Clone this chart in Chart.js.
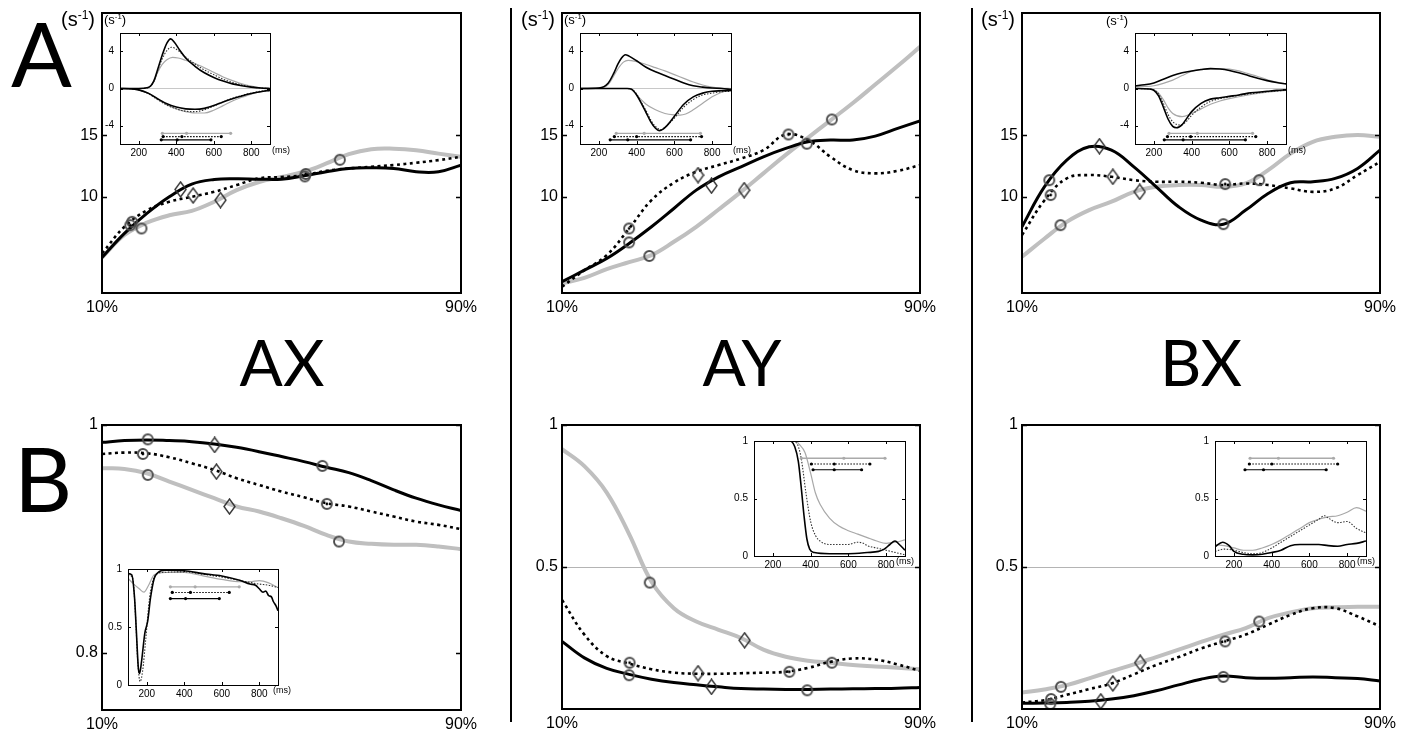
<!DOCTYPE html>
<html><head><meta charset="utf-8">
<script src="https://cdn.jsdelivr.net/npm/chart.js@4.4.1/dist/chart.umd.min.js"></script>
<style>
html,body{margin:0;padding:0;background:#fff;}
body{width:1409px;height:730px;position:relative;overflow:hidden;font-family:"Liberation Sans",Arial,sans-serif;color:#000;}
.pane{position:absolute;}
.pane canvas{display:block;}
.t{position:absolute;white-space:nowrap;line-height:1;}
.big{font-family:Lato,"Open Sans",sans-serif;}
.unit{font-size:20px;}
.unit sup,.iunit sup{font-size:60%;line-height:0;vertical-align:0.6em;}
.iunit{font-size:13px;}
.ms{font-size:9px;}
.sep{position:absolute;width:2px;background:#000;top:8px;height:714px;}
</style></head><body>
<div class="sep" style="left:510px"></div>
<div class="sep" style="left:971px"></div>
<div class="t big" style="left:11px;top:7px;font-size:90px">A</div>
<div class="t big" style="left:14px;top:432px;font-size:90px">B</div>
<div class="t big" style="left:282px;top:330px;font-size:64px;transform:translateX(-50%)">AX</div>
<div class="t big" style="left:742px;top:330px;font-size:64px;transform:translateX(-50%)">AY</div>
<div class="t big" style="left:1201px;top:330px;font-size:64px;transform:translateX(-50%)">BX</div>
<script>
// ================= DATA =================
const pctX = [10,15,20,25,30,35,40,45,50,55,60,65,70,75,80,85,90];
const pctTicks = [10, 90];
const pctTickLabels = ['10%', '90%'];
const msTicks = [200, 400, 600, 800];

// Row A (s^-1) main curves
const aAX_black  = [5.08,7.03,8.65,10.0,11.03,11.4,11.46,11.43,11.43,11.7,12.03,12.3,12.35,12.3,12.03,12.03,12.57];
const aAX_dotted = [5.4,7.57,8.9,9.6,10.0,10.4,10.95,11.5,11.6,11.75,12.1,12.3,12.43,12.57,12.76,12.97,13.24];
const aAX_gray   = [5.08,6.9,7.9,8.5,8.86,9.6,10.54,11.2,11.6,12.03,12.7,13.46,13.86,13.9,13.78,13.5,13.24];
const aAX_mkX = [16.7,16.3,18.8,55.2,55.4,63.0,27.5,30.3,36.4];
const aAX_mkY = [7.97,7.7,7.43,11.65,11.85,13.0,10.6,10.1,9.73];
const aAX_mkT = ['o','od','o','o','od','o','d','d','d'];

const aAY_black  = [3.11,4.05,5.0,6.22,7.57,9.05,10.54,11.62,12.43,13.24,13.92,14.46,14.6,14.6,14.92,15.54,16.16];
const aAY_dotted = [2.7,4.05,5.27,7.43,9.73,11.14,12.03,12.57,13.1,13.78,15.05,14.6,13.24,12.16,11.9,12.1,12.57];
const aAY_gray   = [2.97,3.43,4.13,4.7,5.27,6.35,7.57,8.97,10.4,11.9,13.4,14.8,16.2,17.6,19.1,20.6,22.16];
const aAY_mkX = [25.0,25.0,29.5,60.6,64.7,70.3,40.4,43.4,50.7];
const aAY_mkY = [7.43,6.3,5.2,15.05,14.3,16.27,11.76,10.9,10.54];
const aAY_mkT = ['od','o','o','od','o','o','d','d','d'];

const aBX_black  = [7.57,10.8,12.97,14.05,13.78,12.43,10.81,9.19,8.11,7.78,8.92,10.27,11.14,11.22,11.49,12.3,13.78];
const aBX_dotted = [6.89,9.7,11.49,11.76,11.62,11.35,11.22,11.22,11.14,10.95,11.08,10.95,10.68,10.4,10.68,11.76,12.84];
const aBX_gray   = [5.14,6.6,7.97,8.92,9.6,10.4,10.81,10.95,10.95,10.81,11.08,12.16,13.5,14.46,14.86,15.0,14.86];
const aBX_mkX = [16.1,16.4,18.6,55.4,55.0,63.0,27.3,30.3,36.3];
const aBX_mkY = [11.35,10.14,7.7,11.03,7.78,11.35,14.1,11.62,10.4];
const aBX_mkT = ['o','od','o','od','o','o','d','d','d'];

// Row B main curves
const bAX_black  = [0.9848,0.9863,0.9869,0.9863,0.9854,0.9834,0.9804,0.9766,0.9723,0.9679,0.9629,0.9582,0.9512,0.9431,0.9358,0.9299,0.925];
const bAX_dotted = [0.9746,0.9758,0.9752,0.9717,0.9664,0.9606,0.9533,0.9474,0.9416,0.9366,0.9314,0.9285,0.9241,0.9197,0.9153,0.9124,0.9086];
const bAX_gray   = [0.962,0.9615,0.9577,0.9504,0.9431,0.9358,0.9285,0.9241,0.9182,0.9115,0.9036,0.8978,0.8958,0.8949,0.8949,0.8934,0.8911];
const bAX_mkX = [20.2,19.1,20.2,59.1,60.1,62.8,35.1,35.5,38.4];
const bAX_mkY = [0.9874,0.9746,0.9562,0.9641,0.9308,0.8978,0.9825,0.9591,0.9285];
const bAX_mkT = ['o','od','o','o','od','o','d','d','d'];

const bAY_black  = [0.238,0.18,0.143,0.122,0.105,0.093,0.085,0.078,0.072,0.07,0.069,0.069,0.07,0.071,0.072,0.073,0.076];
const bAY_dotted = [0.384,0.262,0.186,0.16,0.14,0.128,0.124,0.124,0.126,0.128,0.131,0.145,0.166,0.178,0.174,0.157,0.134];
const bAY_gray   = [0.915,0.855,0.762,0.616,0.448,0.355,0.308,0.279,0.25,0.209,0.184,0.17,0.163,0.155,0.15,0.145,0.14];
const bAY_mkX = [29.6,25.1,25.0,60.8,64.8,70.3,40.4,43.4,50.8];
const bAY_mkY = [0.445,0.163,0.119,0.131,0.066,0.163,0.126,0.078,0.242];
const bAY_mkT = ['o','od','o','od','o','o','d','d','d'];

const bBX_black  = [0.02,0.021,0.023,0.027,0.035,0.047,0.064,0.085,0.105,0.116,0.11,0.108,0.11,0.113,0.11,0.107,0.099];
const bBX_dotted = [0.023,0.031,0.05,0.07,0.09,0.122,0.155,0.183,0.213,0.238,0.262,0.297,0.331,0.355,0.355,0.326,0.291];
const bBX_gray   = [0.058,0.069,0.084,0.108,0.133,0.157,0.183,0.209,0.236,0.262,0.285,0.32,0.34,0.355,0.358,0.36,0.36];
const bBX_mkX = [18.7,16.5,16.3,55.4,55.0,63.0,27.6,30.3,36.4];
const bBX_mkY = [0.078,0.035,0.017,0.238,0.113,0.308,0.027,0.09,0.163];
const bBX_mkT = ['o','od','o','od','o','o','d','d','d'];

// Insets, row A (ms, s^-1)
const iaAX_blackUp  = [[100,0],[200,0],[250,0.1],[280,0.8],[300,2.0],[325,3.6],[350,4.9],[370,5.36],[390,5.0],[420,4.1],[450,3.3],[500,2.4],[550,1.7],[600,1.2],[650,0.8],[700,0.5],[750,0.3],[800,0.15],[850,0.05],[900,0]];
const iaAX_dottedUp = [[100,0],[200,0],[250,0.1],[280,0.75],[300,1.9],[325,3.2],[350,4.1],[375,4.46],[400,4.25],[450,3.4],[500,2.65],[550,2.0],[600,1.5],[650,1.0],[700,0.65],[750,0.38],[800,0.18],[850,0.06],[900,0]];
const iaAX_grayUp   = [[100,0],[200,0],[250,0.1],[280,0.7],[300,1.7],[325,2.6],[350,3.1],[380,3.36],[410,3.3],[450,3.05],[500,2.7],[550,2.25],[600,1.75],[650,1.25],[700,0.85],[750,0.5],[800,0.25],[850,0.08],[900,0]];
const iaAX_blackDn  = [[100,0],[150,-0.02],[200,-0.15],[250,-0.5],[300,-1.1],[350,-1.65],[400,-2.0],[450,-2.2],[500,-2.25],[550,-2.15],[600,-1.85],[650,-1.45],[700,-1.1],[750,-0.8],[800,-0.55],[850,-0.35],[900,-0.2]];
const iaAX_dottedDn = [[100,0],[150,-0.02],[200,-0.15],[250,-0.55],[300,-1.2],[350,-1.8],[400,-2.2],[450,-2.45],[500,-2.5],[550,-2.3],[600,-1.9],[650,-1.45],[700,-1.05],[750,-0.75],[800,-0.5],[850,-0.3],[900,-0.18]];
const iaAX_grayDn   = [[100,0],[150,-0.02],[200,-0.15],[250,-0.5],[300,-1.15],[350,-1.75],[400,-2.2],[450,-2.5],[500,-2.65],[550,-2.65],[600,-2.35],[650,-1.85],[700,-1.35],[750,-0.95],[800,-0.6],[850,-0.35],[900,-0.2]];
const iaAX_barS = [326,330,320], iaAX_barM = [455,430,405], iaAX_barE = [690,640,585], iaAX_barY = [-4.85,-5.2,-5.55];

const iaAY_blackUp  = [[100,0],[200,0.05],[250,0.6],[280,1.7],[300,2.6],[320,3.3],[340,3.65],[360,3.5],[400,3.0],[450,2.3],[500,1.8],[550,1.4],[600,1.0],[650,0.6],[700,0.3],[750,0.15],[800,0.05],[850,0],[900,-0.1]];
const iaAY_grayUp   = [[100,0],[200,0.03],[250,0.45],[300,2.1],[330,2.85],[355,3.05],[400,2.9],[450,2.6],[500,2.25],[550,1.9],[600,1.5],[650,1.1],[700,0.7],[750,0.38],[800,0.15],[850,0.05],[900,0]];
const iaAY_blackDn  = [[100,0],[350,0],[375,-0.1],[400,-0.7],[425,-1.6],[450,-2.6],[475,-3.6],[500,-4.3],[520,-4.55],[540,-4.4],[570,-3.8],[600,-3.0],[650,-1.7],[700,-0.9],[750,-0.5],[800,-0.3],[850,-0.25],[900,-0.2]];
const iaAY_dottedDn = [[100,0],[350,0],[375,-0.1],[400,-0.6],[425,-1.5],[450,-2.4],[475,-3.4],[500,-4.1],[530,-4.45],[560,-4.0],[600,-3.2],[650,-2.0],[700,-1.2],[750,-0.7],[800,-0.5],[850,-0.35],[900,-0.3]];
const iaAY_grayDn   = [[100,0],[350,0],[375,-0.15],[400,-0.7],[450,-1.7],[500,-2.3],[550,-2.7],[600,-2.85],[630,-2.87],[660,-2.75],[700,-2.3],[750,-1.6],[800,-0.9],[850,-0.4],[900,-0.15]];
const iaAY_barS = [292,282,260], iaAY_barM = [440,400,353], iaAY_barE = [738,744,686], iaAY_barY = [-4.85,-5.2,-5.55];

const iaBX_blackUp  = [[100,0.3],[150,0.4],[200,0.6],[250,1.0],[300,1.4],[350,1.7],[400,1.9],[450,2.05],[500,2.15],[550,2.1],[600,1.95],[650,1.7],[700,1.4],[750,1.1],[800,0.85],[850,0.65],[900,0.5]];
const iaBX_grayUp   = [[100,0.2],[150,0.22],[200,0.3],[250,0.55],[300,0.9],[350,1.4],[400,1.85],[450,2.05],[500,2.15],[550,2.15],[600,2.1],[650,1.9],[700,1.6],[750,1.3],[800,0.95],[850,0.7],[900,0.5]];
const iaBX_blackDn  = [[100,0],[175,-0.05],[200,-0.2],[225,-0.8],[250,-2.0],[275,-3.3],[300,-4.1],[320,-4.25],[350,-3.9],[375,-3.2],[400,-2.5],[450,-1.6],[500,-1.15],[550,-1.0],[600,-0.85],[650,-0.7],[700,-0.5],[750,-0.4],[800,-0.3],[850,-0.2],[900,-0.15]];
const iaBX_dottedDn = [[100,0],[175,-0.05],[200,-0.15],[225,-0.6],[250,-1.6],[275,-2.8],[300,-3.6],[340,-3.95],[375,-3.5],[400,-2.9],[450,-2.0],[500,-1.4],[550,-1.1],[600,-0.9],[700,-0.6],[800,-0.35],[900,-0.2]];
const iaBX_grayDn   = [[100,0],[175,-0.05],[200,-0.15],[225,-0.5],[250,-1.2],[275,-2.1],[300,-2.7],[350,-3.05],[400,-2.7],[450,-2.2],[500,-1.7],[550,-1.35],[600,-1.1],[700,-0.7],[800,-0.4],[900,-0.2]];
const iaBX_barS = [280,272,255], iaBX_barM = [430,395,355], iaBX_barE = [723,740,685], iaBX_barY = [-4.85,-5.2,-5.55];

// Insets, row B (ms, 0..1)
const ibAX_black  = [[100,0.96],[120,0.95],[135,0.75],[145,0.45],[155,0.15],[162,0.1],[172,0.2],[190,0.45],[205,0.55],[220,0.75],[240,0.92],[260,0.97],[300,0.99],[400,0.985],[500,0.96],[600,0.94],[700,0.9],[750,0.87],[780,0.86],[800,0.83],[820,0.8],[835,0.81],[850,0.77],[865,0.76],[875,0.72],[890,0.68],[900,0.64]];
const ibAX_dotted = [[100,0.95],[125,0.92],[140,0.6],[152,0.2],[165,0.03],[178,0.12],[195,0.4],[215,0.75],[240,0.93],[280,0.97],[400,0.975],[500,0.955],[600,0.93],[700,0.9],[800,0.87],[850,0.86],[900,0.84]];
const ibAX_gray   = [[100,0.92],[130,0.87],[160,0.83],[185,0.8],[210,0.86],[240,0.95],[300,0.97],[400,0.97],[500,0.94],[600,0.91],[700,0.89],[750,0.89],[800,0.9],[850,0.88],[900,0.84]];
const ibAX_barS = [326,336,326], ibAX_barM = [458,433,407], ibAX_barE = [693,640,587], ibAX_barY = [0.846,0.798,0.745];

const ibAY_black  = [[100,1],[290,1],[316,0.95],[335,0.82],[350,0.6],[365,0.35],[380,0.15],[395,0.06],[420,0.03],[500,0.02],[600,0.02],[700,0.03],[760,0.04],[790,0.06],[820,0.1],[847,0.13],[870,0.1],[900,0.05]];
const ibAY_dotted = [[100,1],[300,1],[330,0.97],[350,0.85],[375,0.55],[400,0.3],[425,0.18],[450,0.13],[500,0.1],[600,0.1],[650,0.12],[680,0.11],[700,0.09],[750,0.07],[800,0.05],[850,0.03],[900,0.01]];
const ibAY_gray   = [[100,1],[320,1],[340,0.97],[370,0.9],[400,0.72],[425,0.55],[450,0.45],[500,0.33],[550,0.26],[600,0.22],[650,0.19],[700,0.16],[750,0.13],[800,0.11],[850,0.12],[900,0.14]];
const ibAY_barS = [351,404,413], ibAY_barM = [576,525,525], ibAY_barE = [794,714,670], ibAY_barY = [0.85,0.80,0.75];

const ibBX_black  = [[100,0.08],[140,0.12],[175,0.09],[200,0.04],[250,0.015],[300,0.01],[350,0.015],[400,0.03],[450,0.05],[500,0.09],[550,0.1],[600,0.1],[650,0.1],[700,0.09],[750,0.085],[800,0.1],[850,0.11],[900,0.13]];
const ibBX_dotted = [[100,0.04],[150,0.06],[200,0.05],[250,0.03],[300,0.02],[350,0.03],[400,0.07],[450,0.12],[500,0.17],[550,0.22],[600,0.27],[650,0.32],[680,0.35],[700,0.33],[750,0.29],[800,0.3],[850,0.24],[900,0.2]];
const ibBX_gray   = [[100,0.1],[150,0.09],[200,0.07],[250,0.05],[300,0.05],[350,0.07],[400,0.1],[450,0.14],[500,0.19],[550,0.24],[600,0.29],[650,0.32],[700,0.34],[750,0.35],[800,0.38],[850,0.42],[900,0.39]];
const ibBX_barS = [286,282,259], ibBX_barM = [436,401,357], ibBX_barE = [728,750,689], ibBX_barY = [0.85,0.80,0.75];

// ================= RENDERING =================
Chart.defaults.font.family = '"Liberation Sans", Arial, sans-serif';
Chart.defaults.color = '#000';

const framePlugin = {
  id: 'frame',
  beforeDraw(chart, args, o) {
    if (!o || !o.bg) return;
    const a = chart.chartArea, ctx = chart.ctx;
    ctx.save(); ctx.fillStyle = '#fff'; ctx.fillRect(a.left, a.top, a.right - a.left, a.bottom - a.top); ctx.restore();
  },
  afterDraw(chart, args, o) {
    if (!o || !o.lw) return;
    const {ctx, chartArea: a, scales: {x, y}} = chart;
    ctx.save();
    ctx.strokeStyle = '#000'; ctx.lineWidth = o.tw || 1;
    ctx.beginPath();
    (o.yt || []).forEach(v => {
      const py = Math.round(y.getPixelForValue(v)) + 0.5;
      ctx.moveTo(a.left, py); ctx.lineTo(a.left + o.len, py);
      ctx.moveTo(a.right, py); ctx.lineTo(a.right - o.len, py);
    });
    (o.xt || []).forEach(v => {
      const px = Math.round(x.getPixelForValue(v)) + 0.5;
      ctx.moveTo(px, a.top); ctx.lineTo(px, a.top + o.len);
      ctx.moveTo(px, a.bottom); ctx.lineTo(px, a.bottom - o.len);
    });
    ctx.stroke();
    ctx.lineWidth = o.lw;
    const off = o.lw % 2 ? 0.5 : 0;
    ctx.strokeRect(Math.round(a.left) + off, Math.round(a.top) + off, Math.round(a.right - a.left), Math.round(a.bottom - a.top));
    ctx.restore();
  }
};
Chart.register(framePlugin);

function ringImg(dot) {
  const c = document.createElement('canvas'); c.width = 14; c.height = 14;
  const g = c.getContext('2d');
  g.strokeStyle = '#4d4d4d'; g.lineWidth = 1.9;
  g.beginPath(); g.arc(7, 7, 5, 0, Math.PI * 2); g.stroke();
  if (dot) { g.fillStyle = '#000'; g.beginPath(); g.arc(7, 7, 1.4, 0, Math.PI * 2); g.fill(); }
  return c;
}
function diamondImg() {
  const c = document.createElement('canvas'); c.width = 13; c.height = 17;
  const g = c.getContext('2d');
  g.strokeStyle = '#333'; g.lineWidth = 1.4;
  g.beginPath(); g.moveTo(6.5, 1); g.lineTo(12, 8.5); g.lineTo(6.5, 16); g.lineTo(1, 8.5); g.closePath(); g.stroke();
  return c;
}
const IMG = {o: ringImg(false), od: ringImg(true), d: diamondImg()};

const STY = {
  mBlack: {borderColor: '#000', borderWidth: 3, tension: 0.4, order: 2},
  mDot:   {borderColor: '#000', borderWidth: 2.6, borderDash: [3, 3.5], tension: 0.4, order: 3},
  mGray:  {borderColor: '#bfbfbf', borderWidth: 4, tension: 0.4, order: 4},
  iBlack: {borderColor: '#000', borderWidth: 1.6, cubicInterpolationMode: 'monotone', order: 2},
  iDot:   {borderColor: '#333', borderWidth: 1.1, borderDash: [1.5, 1.5], cubicInterpolationMode: 'monotone', order: 3},
  iGray:  {borderColor: '#a8a8a8', borderWidth: 1.2, cubicInterpolationMode: 'monotone', order: 4}
};

function seriesDS(xs, ys, sty) {
  return Object.assign({data: xs.map((x, i) => ({x, y: ys[i]})), pointRadius: 0, fill: false}, sty);
}
function pairsDS(pairs, sty) {
  return Object.assign({data: pairs.map(p => ({x: p[0], y: p[1]})), pointRadius: 0, fill: false}, sty);
}
function markerDS(xs, ys, ts) {
  return {data: xs.map((x, i) => ({x, y: ys[i]})), showLine: false, pointStyle: ts.map(t => IMG[t]), pointRadius: 6, order: 0};
}
function barDSs(S, M, E, Y) {
  return [0, 1, 2].map(k => ({
    data: [{x: S[k], y: Y[k]}, {x: M[k], y: Y[k]}, {x: E[k], y: Y[k]}],
    borderColor: k === 0 ? '#aaa' : '#000', borderWidth: k === 0 ? 1.3 : 1.1,
    borderDash: k === 1 ? [1.5, 1.5] : [], pointRadius: 1.6, pointBorderWidth: 0,
    pointBackgroundColor: k === 0 ? '#aaa' : '#000', tension: 0, order: 1
  }));
}

function makeChart(rect, pad, datasets, cfg) {
  const W = rect[2] - rect[0] + pad[0] + pad[1], H = rect[3] - rect[1] + pad[2] + pad[3];
  const div = document.createElement('div'); div.className = 'pane';
  div.style.left = (rect[0] - pad[0]) + 'px'; div.style.top = (rect[1] - pad[2]) + 'px';
  div.style.width = W + 'px'; div.style.height = H + 'px';
  const cv = document.createElement('canvas'); cv.width = W; cv.height = H;
  cv.style.width = W + 'px'; cv.style.height = H + 'px';
  div.appendChild(cv); document.body.appendChild(div);
  new Chart(cv, {
    type: 'line',
    data: {datasets},
    options: {
      responsive: false, animation: false, devicePixelRatio: 1,
      layout: {padding: {left: 0, right: pad[1], top: pad[2], bottom: 0}},
      plugins: {legend: {display: false}, tooltip: {enabled: false}, frame: cfg.frame},
      scales: {
        x: {
          type: 'linear', min: cfg.xmin, max: cfg.xmax,
          afterFit: s => { s.height = pad[3]; },
          afterBuildTicks: s => { s.ticks = cfg.xt.map(v => ({value: v})); },
          ticks: {autoSkip: false, maxRotation: 0, padding: cfg.xpad, font: {size: cfg.xfs}, callback: v => cfg.xlab(v)},
          grid: {display: false, drawTicks: false}, border: {display: false}
        },
        y: {
          type: 'linear', min: cfg.ymin, max: cfg.ymax,
          afterFit: s => { s.width = pad[0]; },
          afterBuildTicks: s => { s.ticks = cfg.yt.map(v => ({value: v})); },
          ticks: {autoSkip: false, padding: cfg.ypad, font: {size: cfg.yfs}, callback: v => cfg.ylab(v)},
          grid: {drawTicks: false, lineWidth: 1,
                 color: c => (cfg.hline !== undefined && c.tick && Math.abs(c.tick.value - cfg.hline) < 1e-9) ? cfg.hcolor : 'rgba(0,0,0,0)'},
          border: {display: false}
        }
      }
    }
  });
}

const MPAD = [45, 30, 14, 30];
const IPAD = [24, 16, 8, 16];
const pctLab = v => pctTickLabels[pctTicks.indexOf(v)];
const numLab = v => String(v);

function mainCfg(ymin, ymax, yt, hline) {
  return {xmin: 10, xmax: 90, xt: pctTicks, xlab: pctLab, xpad: 5, xfs: 16,
          ymin, ymax, yt, ylab: numLab, ypad: 4, yfs: 16, hline, hcolor: '#b4b4b4',
          frame: {lw: 2, len: 5, yt: yt, xt: [], tw: 1.5}};
}
function insetCfg(ymin, ymax, yt, hline) {
  return {xmin: 100, xmax: 900, xt: msTicks, xlab: numLab, xpad: 3, xfs: 10,
          ymin, ymax, yt, ylab: numLab, ypad: 6, yfs: 10, hline, hcolor: '#c8c8c8',
          frame: {lw: 1, len: 3, yt: yt, xt: msTicks, bg: true, tw: 1}};
}

// ---- main panels row A
makeChart([102, 13, 461, 293], MPAD, [
  markerDS(aAX_mkX, aAX_mkY, aAX_mkT),
  seriesDS(pctX, aAX_black, STY.mBlack), seriesDS(pctX, aAX_dotted, STY.mDot), seriesDS(pctX, aAX_gray, STY.mGray)
], mainCfg(2.2, 24.9, [10, 15]));
makeChart([562, 13, 920, 293], MPAD, [
  markerDS(aAY_mkX, aAY_mkY, aAY_mkT),
  seriesDS(pctX, aAY_black, STY.mBlack), seriesDS(pctX, aAY_dotted, STY.mDot), seriesDS(pctX, aAY_gray, STY.mGray)
], mainCfg(2.2, 24.9, [10, 15]));
makeChart([1022, 13, 1380, 293], MPAD, [
  markerDS(aBX_mkX, aBX_mkY, aBX_mkT),
  seriesDS(pctX, aBX_black, STY.mBlack), seriesDS(pctX, aBX_dotted, STY.mDot), seriesDS(pctX, aBX_gray, STY.mGray)
], mainCfg(2.2, 24.9, [10, 15]));

// ---- main panels row B
makeChart([102, 425, 461, 710], MPAD, [
  markerDS(bAX_mkX, bAX_mkY, bAX_mkT),
  seriesDS(pctX, bAX_black, STY.mBlack), seriesDS(pctX, bAX_dotted, STY.mDot), seriesDS(pctX, bAX_gray, STY.mGray)
], mainCfg(0.75, 1, [0.8, 1]));
makeChart([562, 425, 920, 709], MPAD, [
  markerDS(bAY_mkX, bAY_mkY, bAY_mkT),
  seriesDS(pctX, bAY_black, STY.mBlack), seriesDS(pctX, bAY_dotted, STY.mDot), seriesDS(pctX, bAY_gray, STY.mGray)
], mainCfg(0, 1, [0.5, 1], 0.5));
makeChart([1022, 425, 1380, 709], MPAD, [
  markerDS(bBX_mkX, bBX_mkY, bBX_mkT),
  seriesDS(pctX, bBX_black, STY.mBlack), seriesDS(pctX, bBX_dotted, STY.mDot), seriesDS(pctX, bBX_gray, STY.mGray)
], mainCfg(0, 1, [0.5, 1], 0.5));

// ---- insets row A
makeChart([120, 29, 270, 144], IPAD, [
  ...barDSs(iaAX_barS, iaAX_barM, iaAX_barE, iaAX_barY),
  pairsDS(iaAX_blackUp, STY.iBlack), pairsDS(iaAX_blackDn, STY.iBlack),
  pairsDS(iaAX_dottedUp, STY.iDot), pairsDS(iaAX_dottedDn, STY.iDot),
  pairsDS(iaAX_grayUp, STY.iGray), pairsDS(iaAX_grayDn, STY.iGray)
], insetCfg(-6, 6, [-4, 0, 4], 0));
makeChart([580, 29, 731, 144], IPAD, [
  ...barDSs(iaAY_barS, iaAY_barM, iaAY_barE, iaAY_barY),
  pairsDS(iaAY_blackUp, STY.iBlack), pairsDS(iaAY_blackDn, STY.iBlack),
  pairsDS(iaAY_dottedDn, STY.iDot),
  pairsDS(iaAY_grayUp, STY.iGray), pairsDS(iaAY_grayDn, STY.iGray)
], insetCfg(-6, 6, [-4, 0, 4], 0));
makeChart([1135, 29, 1286, 144], IPAD, [
  ...barDSs(iaBX_barS, iaBX_barM, iaBX_barE, iaBX_barY),
  pairsDS(iaBX_blackUp, STY.iBlack), pairsDS(iaBX_blackDn, STY.iBlack),
  pairsDS(iaBX_dottedDn, STY.iDot),
  pairsDS(iaBX_grayUp, STY.iGray), pairsDS(iaBX_grayDn, STY.iGray)
], insetCfg(-6, 6, [-4, 0, 4], 0));

// ---- insets row B
makeChart([128, 565, 278, 685], IPAD, [
  ...barDSs(ibAX_barS, ibAX_barM, ibAX_barE, ibAX_barY),
  pairsDS(ibAX_black, STY.iBlack), pairsDS(ibAX_dotted, STY.iDot), pairsDS(ibAX_gray, STY.iGray)
], insetCfg(0, 1, [0, 0.5, 1]));
makeChart([754, 437, 905, 556], IPAD, [
  ...barDSs(ibAY_barS, ibAY_barM, ibAY_barE, ibAY_barY),
  pairsDS(ibAY_black, STY.iBlack), pairsDS(ibAY_dotted, STY.iDot), pairsDS(ibAY_gray, STY.iGray)
], insetCfg(0, 1, [0, 0.5, 1]));
makeChart([1215, 437, 1366, 556], IPAD, [
  ...barDSs(ibBX_barS, ibBX_barM, ibBX_barE, ibBX_barY),
  pairsDS(ibBX_black, STY.iBlack), pairsDS(ibBX_dotted, STY.iDot), pairsDS(ibBX_gray, STY.iGray)
], insetCfg(0, 1, [0, 0.5, 1]));
</script>
<!-- unit labels -->
<div class="t unit" style="left:61px;top:9px">(s<sup>-1</sup>)</div>
<div class="t unit" style="left:521px;top:9px">(s<sup>-1</sup>)</div>
<div class="t unit" style="left:981px;top:9px">(s<sup>-1</sup>)</div>
<div class="t iunit" style="left:104px;top:13px">(s<sup>-1</sup>)</div>
<div class="t iunit" style="left:564px;top:13px">(s<sup>-1</sup>)</div>
<div class="t iunit" style="left:1106px;top:14px">(s<sup>-1</sup>)</div>
<div class="t ms" style="left:272px;top:146px">(ms)</div>
<div class="t ms" style="left:733px;top:146px">(ms)</div>
<div class="t ms" style="left:1288px;top:146px">(ms)</div>
<div class="t ms" style="left:273px;top:686px">(ms)</div>
<div class="t ms" style="left:896px;top:557px">(ms)</div>
<div class="t ms" style="left:1357px;top:557px">(ms)</div>
</body></html>
